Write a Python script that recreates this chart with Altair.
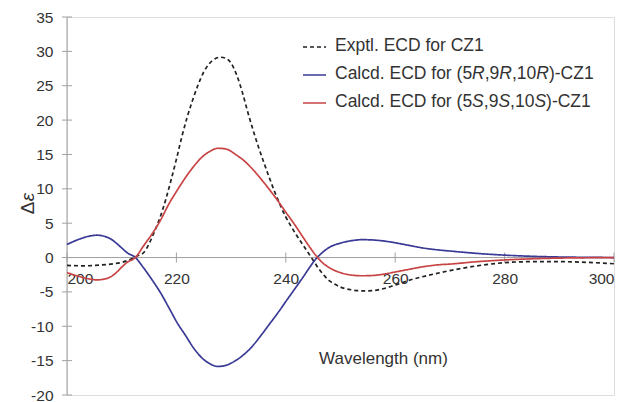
import altair as alt
import pandas as pd

# ---- data ----
exp_wl = [200, 203, 206, 208, 210, 211, 212, 213, 214, 215, 216, 217, 218, 219, 220, 221, 222, 223, 224, 225,
          226, 227, 228, 229, 230, 231, 232, 233, 234, 235, 236, 237, 238, 239, 240, 241, 242, 243, 244, 245,
          246, 247, 248, 249, 250, 252, 254, 256, 258, 260, 263, 266, 270, 275, 280, 285, 290, 295, 300]
exp_de = [-1.15, -1.2, -1.1, -0.95, -0.7, -0.45, -0.1, 0.3, 0.7, 2.0, 3.8, 5.8, 8.3, 11.2, 14.3, 17.6, 20.5, 23.0, 25.2, 27.0,
          28.2, 28.9, 29.15, 29.0, 28.3, 26.6, 24.2, 21.3, 18.6, 16.1, 13.8, 11.6, 9.5, 7.6, 5.9, 4.5, 3.2, 2.0, 0.8, -0.4,
          -1.6, -2.6, -3.4, -3.9, -4.3, -4.7, -4.85, -4.8, -4.5, -4.0, -3.2, -2.6, -1.9, -1.2, -0.75, -0.6, -0.6, -0.7, -0.9]

calc_wl = [200, 202, 204, 205.5, 207, 208, 209, 210, 211, 212.5, 214, 215.6, 217, 218.7, 220, 221.8, 223, 224.8, 226,
           227.6, 229, 231, 232.5, 234, 235.5, 237, 238.6, 240, 241.7, 243.2, 244.3, 245.5, 246.5, 248, 250, 252, 254,
           256, 258, 260, 262, 265, 268, 270, 275, 280, 285, 290, 295, 300]
calc_R = [1.9, 2.6, 3.1, 3.25, 3.05, 2.7, 2.1, 1.4, 0.7, 0.0, -1.5, -3.3, -5.0, -7.4, -9.3, -11.5, -13.0, -14.7, -15.4,
          -15.85, -15.7, -14.9, -14.0, -12.8, -11.3, -9.7, -8.0, -6.4, -4.5, -2.8, -1.5, -0.2, 0.6, 1.5, 2.1, 2.45, 2.6,
          2.55, 2.4, 2.15, 1.85, 1.4, 1.1, 0.95, 0.6, 0.35, 0.18, 0.08, 0.03, 0.0]
calc_S = [-2.2, -2.7, -3.1, -3.25, -3.1, -2.8, -2.2, -1.4, -0.7, 0.0, 1.7, 3.5, 5.3, 7.9, 9.6, 11.8, 13.1, 14.7, 15.4,
          15.9, 15.8, 14.9, 14.0, 12.8, 11.4, 9.9, 8.2, 6.6, 4.7, 2.9, 1.6, 0.3, -0.6, -1.5, -2.2, -2.55, -2.65,
          -2.6, -2.4, -2.1, -1.8, -1.35, -1.05, -0.95, -0.6, -0.35, -0.18, -0.08, -0.03, 0.0]

series_names = ["Exptl. ECD for CZ1", "Calcd. ECD for (5R,9R,10R)-CZ1", "Calcd. ECD for (5S,9S,10S)-CZ1"]
series_colors = ["#222222", "#3a3a96", "#c84444"]
series_dash = [[4, 3], [1, 0], [1, 0]]

x_ticks = [200, 220, 240, 260, 280, 300]
y_ticks = [-20, -15, -10, -5, 0, 5, 10, 15, 20, 25, 30, 35]

df = pd.concat([
    pd.DataFrame({"wl": exp_wl, "de": exp_de, "series": series_names[0]}),
    pd.DataFrame({"wl": calc_wl, "de": calc_R, "series": series_names[1]}),
    pd.DataFrame({"wl": calc_wl, "de": calc_S, "series": series_names[2]}),
])

W, H = 547, 378
X_MIN, X_MAX = 200, 300
Y_MIN, Y_MAX = -20, 35
FONT = "Liberation Sans"
AXIS_GRAY = "#a0a0a0"
TEXT_COL = "#333333"
TICK_HALF = 5  # px, ticks cross the axis lines
# move the x axis up so that it sits on the zero line
x_offset = -(H * (0 - Y_MIN) / (Y_MAX - Y_MIN))

xs = alt.Scale(domain=[X_MIN, X_MAX], nice=False, zero=False)
ys = alt.Scale(domain=[Y_MIN, Y_MAX], nice=False, zero=False)

x_axis = alt.Axis(
    values=x_ticks, orient="bottom", offset=x_offset, domain=False, grid=False,
    ticks=False, tickSize=0,
    labelPadding=14, labelFontSize=15.5, labelFont=FONT, labelColor=TEXT_COL,
    labelOverlap=False, labelExpr="'' + datum.value",
    title="Wavelength (nm)", titleFont=FONT, titleFontSize=17, titleFontWeight="normal",
    titleColor=TEXT_COL, titleX=316, titleY=101, titleBaseline="middle", titleAlign="center")
y_axis = alt.Axis(
    values=y_ticks, orient="left", domain=False, grid=False,
    ticks=False, tickSize=0,
    labelPadding=14, labelFontSize=15.5, labelFont=FONT, labelColor=TEXT_COL,
    labelOverlap=False, labelExpr="'' + datum.value", title=None)

one = pd.DataFrame({"a": [0]})

# tick marks crossing the axes, drawn from the tick lists
dx = TICK_HALF * (X_MAX - X_MIN) / W
dy = TICK_HALF * (Y_MAX - Y_MIN) / H
xt = pd.DataFrame({"v": x_ticks, "lo": -dy, "hi": dy})
yt = pd.DataFrame({"v": y_ticks, "lo": X_MIN - dx, "hi": X_MIN + dx})

x_tick_marks = alt.Chart(xt).mark_rule(color=AXIS_GRAY, strokeWidth=1).encode(
    x=alt.X("v:Q", scale=xs, axis=x_axis), y=alt.Y("lo:Q", scale=ys, axis=y_axis), y2="hi:Q")
y_tick_marks = alt.Chart(yt).mark_rule(color=AXIS_GRAY, strokeWidth=1).encode(
    y=alt.Y("v:Q", scale=ys, axis=y_axis), x=alt.X("lo:Q", scale=xs, axis=x_axis), x2="hi:Q")

zero_line = alt.Chart(one).mark_rule(color=AXIS_GRAY, strokeWidth=1).encode(
    x=alt.XDatum(X_MIN, scale=xs, axis=x_axis), x2=alt.X2Datum(X_MAX),
    y=alt.YDatum(0, scale=ys, axis=y_axis))
y_line = alt.Chart(one).mark_rule(color=AXIS_GRAY, strokeWidth=1).encode(
    x=alt.XDatum(X_MIN, scale=xs, axis=x_axis),
    y=alt.YDatum(Y_MIN, scale=ys, axis=y_axis), y2=alt.Y2Datum(Y_MAX))

lines = alt.Chart(df).mark_line(strokeWidth=1.7, interpolate="monotone").encode(
    x=alt.X("wl:Q", scale=xs, axis=x_axis),
    y=alt.Y("de:Q", scale=ys, axis=y_axis),
    color=alt.Color("series:N", scale=alt.Scale(domain=series_names, range=series_colors), legend=None),
    strokeDash=alt.StrokeDash("series:N", scale=alt.Scale(domain=series_names, range=series_dash), legend=None),
)

# ---- y-axis title: "Δ" upright, "ε" italic ----
ytitle_d = alt.Chart(one).mark_text(text="Δ", font=FONT, fontSize=19, angle=270, color=TEXT_COL,
                                    baseline="middle", align="center").encode(
    x=alt.value(-39), y=alt.value(191))
ytitle_e = alt.Chart(one).mark_text(text="ε", font=FONT, fontSize=19, fontStyle="italic", angle=270,
                                    color=TEXT_COL, baseline="middle", align="center").encode(
    x=alt.value(-39), y=alt.value(180))

# ---- legend (drawn by hand so that R / S can be italic) ----
ADV = {'C': 722, 'a': 556, 'l': 222, 'c': 500, 'd': 556, '.': 278, ' ': 278, 'E': 667, 'D': 722,
       'f': 278, 'o': 556, 'r': 333, '(': 333, '5': 556, 'R': 722, ',': 278, '9': 556, '1': 556,
       '0': 556, ')': 333, '-': 333, 'Z': 611, 'S': 667, 'x': 500, 'p': 556, 't': 278}
LFS = 17.5


def text_w(s):
    return sum(ADV.get(ch, 556) for ch in s) * LFS / 1000.0


legend_rows = [
    [("Exptl. ECD for CZ1", False)],
    [("Calcd. ECD for (5", False), ("R", True), (",9", False), ("R", True), (",10", False), ("R", True), (")-CZ1", False)],
    [("Calcd. ECD for (5", False), ("S", True), (",9", False), ("S", True), (",10", False), ("S", True), (")-CZ1", False)],
]
row_y = [29, 57, 85]
sym_x0, sym_x1, txt_x0 = 236, 259, 268

legend_layers = []
for i, pieces in enumerate(legend_rows):
    legend_layers.append(
        alt.Chart(one).mark_rule(color=series_colors[i], strokeWidth=1.7, strokeDash=series_dash[i]).encode(
            x=alt.value(sym_x0), x2=alt.value(sym_x1), y=alt.value(row_y[i] + 1)))
    xpos = txt_x0
    for s, it in pieces:
        kw = dict(text=s, font=FONT, fontSize=LFS, color=TEXT_COL, align="left", baseline="middle")
        if it:
            kw["fontStyle"] = "italic"
        legend_layers.append(
            alt.Chart(one).mark_text(**kw).encode(x=alt.value(xpos), y=alt.value(row_y[i])))
        xpos += text_w(s)

chart = alt.layer(zero_line, y_line, x_tick_marks, y_tick_marks, lines, ytitle_d, ytitle_e,
                  *legend_layers).properties(
    width=W, height=H,
    autosize=alt.AutoSizeParams(type="none"),
    padding={"left": 67, "top": 17, "right": 16, "bottom": 7},
).configure_view(stroke=None).configure(background="white")

chart.save("out.html", embed_options={"renderer": "svg", "actions": False})
